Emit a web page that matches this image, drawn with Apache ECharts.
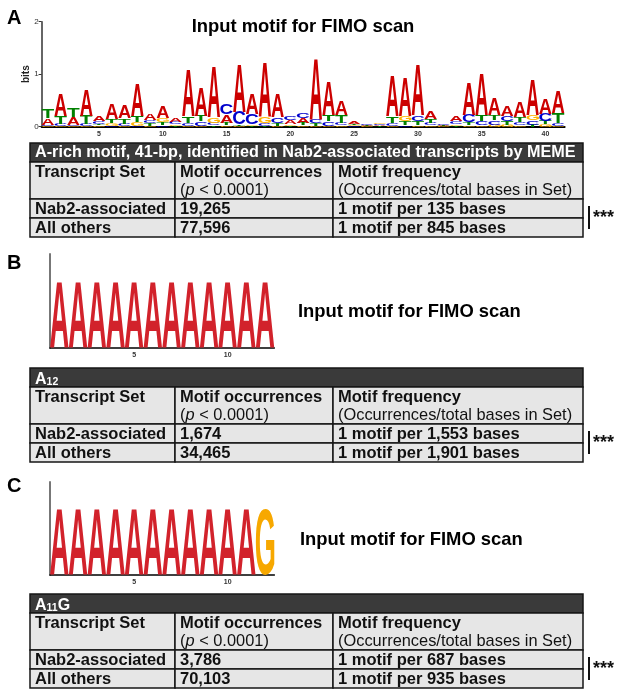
<!DOCTYPE html>
<html><head><meta charset="utf-8">
<script src="https://cdn.jsdelivr.net/npm/echarts@6/dist/echarts.min.js"></script>
<style>html,body{margin:0;padding:0;background:#fff}#c{width:617px;height:689px}</style>
</head><body><div id="c"></div>
<script>
// ---------- DATA ----------
const positionsA = ['1','2','3','4','5','6','7','8','9','10','11','12','13','14','15','16','17','18','19','20','21','22','23','24','25','26','27','28','29','30','31','32','33','34','35','36','37','38','39','40','41'];
const bitsA_A = [0.13,0.42,0.15,0.49,0.09,0.29,0.25,0.62,0.11,0.22,0.08,0.90,0.54,0.96,0.15,0.92,0.39,1.05,0.44,0.08,0.10,1.17,0.65,0.27,0.04,0.02,0.02,0.76,0.74,0.96,0.15,0.02,0.09,0.62,0.79,0.32,0.19,0.30,0.67,0.29,0.42];
const bitsA_C = [0.03,0.04,0.03,0.04,0.04,0.02,0.04,0.02,0.06,0.03,0.04,0.05,0.08,0.04,0.19,0.24,0.19,0.05,0.11,0.08,0.10,0.08,0.08,0.05,0.02,0.02,0.03,0.06,0.03,0.11,0.05,0.02,0.06,0.14,0.08,0.08,0.10,0.06,0.08,0.14,0.05];
const bitsA_G = [0.01,0.02,0.01,0.01,0.03,0.05,0.02,0.07,0.02,0.08,0.03,0.02,0.02,0.11,0.03,0.02,0.03,0.13,0.02,0.03,0.03,0.02,0.02,0.03,0.02,0.01,0.03,0.02,0.11,0.03,0.03,0.01,0.03,0.03,0.03,0.04,0.04,0.03,0.10,0.05,0.02];
const bitsA_T = [0.18,0.15,0.17,0.16,0.03,0.07,0.10,0.12,0.05,0.05,0.02,0.13,0.11,0.03,0.05,0.02,0.02,0.01,0.05,0.02,0.04,0.05,0.12,0.14,0.02,0.01,0.01,0.12,0.07,0.08,0.07,0.01,0.02,0.05,0.12,0.10,0.06,0.10,0.04,0.06,0.20];

const positionsB = ['1','2','3','4','5','6','7','8','9','10','11','12'];
const bitsB_A = [2,2,2,2,2,2,2,2,2,2,2,2];
const positionsC = ['1','2','3','4','5','6','7','8','9','10','11','12'];
const bitsC_A = [2,2,2,2,2,2,2,2,2,2,2,0];
const bitsC_G = [0,0,0,0,0,0,0,0,0,0,0,2];

const panelLabels = ['A','B','C'];
const logoTitle = 'Input motif for FIMO scan';
const tableHeaders = ['A-rich motif, 41-bp, identified in Nab2-associated transcripts by MEME', '{m|A}{s|12}', '{m|A}{s|11}{m|G}'];
const colHeads = ['Transcript Set', 'Motif occurrences', 'Motif frequency'];
const colSubHeads = ['', '{n|(}{i|p}{n| < 0.0001)}', '{n|(Occurrences/total bases in Set)}'];
const transcriptSets = ['Nab2-associated', 'All others'];
const occurrencesA = ['19,265', '77,596'];
const frequencyA = ['1 motif per 135 bases', '1 motif per 845 bases'];
const occurrencesB = ['1,674', '34,465'];
const frequencyB = ['1 motif per 1,553 bases', '1 motif per 1,901 bases'];
const occurrencesC = ['3,786', '70,103'];
const frequencyC = ['1 motif per 687 bases', '1 motif per 935 bases'];
const significance = '***';

// ---------- RENDER ----------
const FF = '"Liberation Sans", Arial, Helvetica, sans-serif';
const LOGO_FONT = 'bold 100px ' + FF;
const mctx = document.createElement('canvas').getContext('2d');
const gcache = {};
function glyph(ch) {
  if (gcache[ch]) return gcache[ch];
  mctx.font = LOGO_FONT; mctx.textBaseline = 'middle'; mctx.textAlign = 'left';
  const m = mctx.measureText(ch);
  return gcache[ch] = {left: m.actualBoundingBoxLeft, right: m.actualBoundingBoxRight, asc: m.actualBoundingBoxAscent, desc: m.actualBoundingBoxDescent};
}
const colorsA = {A: '#cc0000', C: '#0000cc', G: '#ffb300', T: '#008000'};
const colorsBC = {A: '#d2222b', C: '#0000cc', G: '#f7a800', T: '#008000'};

function logoRender(colors, wf) {
  return function (params, api) {
    const idx = api.value(0);
    const L = ['A', 'C', 'G', 'T'];
    const vals = L.map((l, k) => ({l: l, v: api.value(k + 1)})).filter(d => d.v > 0).sort((a, b) => a.v - b.v);
    const c = api.coord([idx, 0]);
    const band = api.size([1, 0])[0];
    const w = band * wf;
    let cum = 0; const children = [];
    vals.forEach(d => {
      const yb = api.coord([idx, cum])[1];
      const yt = api.coord([idx, cum + d.v])[1];
      cum += d.v;
      const h = yb - yt;
      if (h < 0.4) return;
      const g = glyph(d.l);
      const sx = w / (g.left + g.right), sy = h / (g.asc + g.desc);
      children.push({type: 'text', x: c[0] - w / 2 + g.left * sx, y: yt + g.asc * sy, scaleX: sx, scaleY: sy, silent: true,
        style: {text: d.l, font: LOGO_FONT, fill: colors[d.l], align: 'left', verticalAlign: 'middle', textAlign: 'left', textVerticalAlign: 'middle'}});
    });
    return {type: 'group', children: children};
  };
}

const dataA = positionsA.map((p, i) => [i, bitsA_A[i], bitsA_C[i], bitsA_G[i], bitsA_T[i]]);
const dataB = positionsB.map((p, i) => [i, bitsB_A[i], 0, 0, 0]);
const dataC = positionsC.map((p, i) => [i, bitsC_A[i], 0, bitsC_G[i], 0]);

function xAx(gi, cats, lw, fs) {
  return {gridIndex: gi, type: 'category', data: cats, boundaryGap: true,
    axisLine: {lineStyle: {color: '#000', width: lw}},
    axisTick: {alignWithLabel: true, interval: 0, length: 2, lineStyle: {color: '#000', width: 1}},
    axisLabel: {interval: (i) => (i + 1) % 5 === 0, fontSize: fs, fontWeight: 'bold', color: '#333', margin: 4, fontFamily: FF},
    splitLine: {show: false}};
}

// graphic helpers
const G = [];
function txt(x, y, text, font, fill, extra) {
  const s = Object.assign({text: text, font: font, fill: fill || '#000', align: 'left', verticalAlign: 'middle', textAlign: 'left', textVerticalAlign: 'middle'}, extra || {});
  G.push({type: 'text', x: x, y: y, silent: true, style: s});
}
function rect(x, y, w, h, fill) {
  G.push({type: 'rect', silent: true, shape: {x: x, y: y, width: w, height: h}, style: {fill: fill, stroke: '#161616', lineWidth: 1.5}});
}
const BOLD = 'bold 16.5px ' + FF;
const richBase = {
  m: {fontSize: 16, fontWeight: 'bold', color: '#fff', fontFamily: FF, lineHeight: 18, verticalAlign: 'bottom'},
  s: {fontSize: 10.5, fontWeight: 'bold', color: '#fff', fontFamily: FF, lineHeight: 10, verticalAlign: 'bottom'},
  n: {fontSize: 16.4, color: '#111', fontFamily: FF},
  i: {fontSize: 16.4, color: '#111', fontFamily: FF, fontStyle: 'italic'}
};
function table(top, header, occ, freq) {
  const cols = [30, 175, 333, 583];
  const hH = 19, h2 = 37, hr = 19;
  rect(cols[0], top, cols[3] - cols[0], hH, '#3a3a3a');
  if (header.indexOf('{') === 0) {
    G.push({type: 'text', x: cols[0] + 5, y: top + hH / 2 + 1, silent: true, style: {text: header, rich: richBase, fill: '#fff', align: 'left', verticalAlign: 'middle', textAlign: 'left', textVerticalAlign: 'middle'}});
  } else {
    txt(cols[0] + 5, top + hH / 2 + 0.5, header, 'bold 16.2px ' + FF, '#fff');
  }
  let y = top + hH;
  for (let k = 0; k < 3; k++) {
    rect(cols[k], y, cols[k + 1] - cols[k], h2, '#e6e6e6');
    txt(cols[k] + 5, y + 10, colHeads[k], BOLD, '#111');
    if (colSubHeads[k]) G.push({type: 'text', x: cols[k] + 5, y: y + 28, silent: true, style: {text: colSubHeads[k], rich: richBase, fill: '#111', align: 'left', verticalAlign: 'middle', textAlign: 'left', textVerticalAlign: 'middle'}});
  }
  y += h2;
  for (let r = 0; r < 2; r++) {
    const vals = [transcriptSets[r], occ[r], freq[r]];
    for (let k = 0; k < 3; k++) {
      rect(cols[k], y, cols[k + 1] - cols[k], hr, '#e6e6e6');
      txt(cols[k] + 5, y + hr / 2 + 0.5, vals[k], BOLD, '#111');
    }
    y += hr;
  }
  const mid = top + hH + h2 + hr;
  G.push({type: 'rect', silent: true, shape: {x: 588, y: mid - 12, width: 2, height: 23}, style: {fill: '#111'}});
  txt(593, mid, significance, 'bold 18px ' + FF, '#111');
}
table(143, tableHeaders[0], occurrencesA, frequencyA);
table(368, tableHeaders[1], occurrencesB, frequencyB);
table(594, tableHeaders[2], occurrencesC, frequencyC);

txt(7, 18, panelLabels[0], 'bold 20px ' + FF, '#000');
txt(7, 263, panelLabels[1], 'bold 20px ' + FF, '#000');
txt(7, 486, panelLabels[2], 'bold 20px ' + FF, '#000');
G.push({type: 'text', x: 303, y: 27, silent: true, style: {text: logoTitle, font: 'bold 18.4px ' + FF, fill: '#000', align: 'center', verticalAlign: 'middle', textAlign: 'center', textVerticalAlign: 'middle'}});
txt(298, 312, logoTitle, 'bold 18.4px ' + FF, '#000');
txt(300, 540, logoTitle, 'bold 18.4px ' + FF, '#000');

const chart = echarts.init(document.getElementById('c'), null, {renderer: 'canvas'});
chart.setOption({
  animation: false,
  backgroundColor: '#fff',
  grid: [
    {left: 41.6, top: 21.7, width: 523, height: 105},
    {left: 50, top: 254, width: 224.4, height: 94},
    {left: 50, top: 482, width: 224.4, height: 93}
  ],
  xAxis: [xAx(0, positionsA, 2, 7), xAx(1, positionsB, 1.5, 7), xAx(2, positionsC, 1.5, 7)],
  yAxis: [
    {gridIndex: 0, type: 'value', min: 0, max: 2, interval: 1, name: 'bits', nameLocation: 'middle', nameGap: 10, nameMoveOverlap: false,
      nameTextStyle: {fontSize: 10, fontWeight: 'bold', color: '#222', fontFamily: FF},
      axisLine: {show: true, lineStyle: {color: '#333', width: 1.5}}, axisTick: {show: true, length: 3, lineStyle: {color: '#333'}},
      axisLabel: {fontSize: 8, color: '#333', margin: 3, fontFamily: FF}, splitLine: {show: false}},
    {gridIndex: 1, type: 'value', min: 0, max: 2.85, axisLine: {show: true, lineStyle: {color: '#777', width: 2}}, axisTick: {show: false}, axisLabel: {show: false}, splitLine: {show: false}},
    {gridIndex: 2, type: 'value', min: 0, max: 2.82, axisLine: {show: true, lineStyle: {color: '#777', width: 2}}, axisTick: {show: false}, axisLabel: {show: false}, splitLine: {show: false}}
  ],
  series: [
    {type: 'custom', xAxisIndex: 0, yAxisIndex: 0, renderItem: logoRender(colorsA, 0.98), data: dataA, encode: {x: 0, y: 1}, silent: true},
    {type: 'custom', xAxisIndex: 1, yAxisIndex: 1, renderItem: logoRender(colorsBC, 0.99), data: dataB, encode: {x: 0, y: 1}, silent: true},
    {type: 'custom', xAxisIndex: 2, yAxisIndex: 2, renderItem: logoRender(colorsBC, 0.99), data: dataC, encode: {x: 0, y: 1}, silent: true}
  ],
  graphic: G
});
</script></body></html>
